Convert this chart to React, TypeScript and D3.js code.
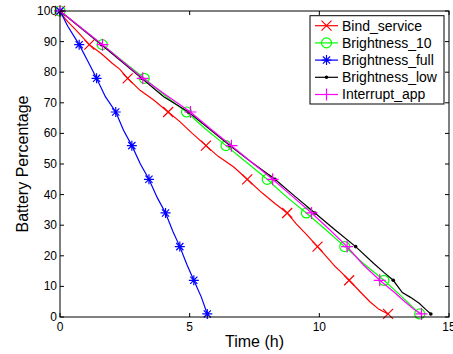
import React from 'react';
import * as d3 from 'd3';

// battery drain per scenario: [time (h), battery %]
const bindService: [number, number][] = [
  [0, 100], [0.15, 98], [0.3, 96.5], [0.7, 93], [1.13, 89], [1.6, 86], [2.0, 83], [2.3, 81],
  [2.61, 78], [3.1, 74], [3.6, 71], [4.17, 67], [4.6, 64], [5.1, 60], [5.63, 56], [6.1, 52.5],
  [6.7, 49], [7.22, 45], [7.8, 40.5], [8.3, 37], [8.76, 34], [9.1, 30.5], [9.5, 27], [9.93, 23],
  [10.3, 19.5], [10.62, 16.4], [10.8, 15], [11.15, 12], [11.6, 8], [11.95, 5], [12.3, 2.5], [12.65, 1],
];
const brightness10: [number, number][] = [
  [0, 100], [1.63, 89], [3.25, 78], [4.1, 72], [4.88, 67], [5.6, 61.5], [6.4, 56], [7.2, 50.5],
  [7.99, 45], [8.7, 39.5], [9.5, 34], [10.25, 28.5], [10.98, 23], [11.7, 17.5], [12.49, 12],
  [13.2, 6.5], [13.87, 1],
];
const brightnessFull: [number, number][] = [
  [0, 100], [0.3, 95], [0.74, 89], [1.05, 84], [1.41, 78], [1.75, 72], [2.15, 67], [2.45, 61],
  [2.77, 56], [3.1, 50], [3.43, 45], [3.75, 39], [4.07, 34], [4.35, 28], [4.62, 23], [4.9, 17],
  [5.16, 12], [5.45, 6.5], [5.68, 1],
];
const brightnessLow: [number, number][] = [
  [0, 100], [1.6, 89], [3.15, 78], [4.0, 72], [4.95, 67], [5.75, 61.5], [6.55, 56], [7.4, 50.5],
  [8.29, 45], [9.05, 39.5], [9.83, 34], [10.6, 28.5], [11.4, 23], [12.1, 17.5], [12.5, 14.5],
  [12.85, 12], [13.2, 8], [13.5, 6.5], [13.85, 4.5], [14.1, 2.5], [14.3, 1],
];
const interruptApp: [number, number][] = [
  [0, 100], [1.64, 89], [3.19, 78], [4.1, 72.5], [5.03, 67], [5.8, 61.5], [6.61, 56], [7.4, 50.5],
  [8.2, 45], [8.95, 39.5], [9.7, 34], [10.4, 28.5], [11.07, 23], [11.7, 17], [12.33, 12],
  [12.9, 8], [13.3, 5], [13.65, 2.5], [13.94, 1],
];

const markerLevels = [100, 89, 78, 67, 56, 45, 34, 23, 12, 1];
const xTicks = [0, 5, 10, 15];
const yTicks = [0, 10, 20, 30, 40, 50, 60, 70, 80, 90, 100];

const series = [
  { name: 'Bind_service', data: bindService, color: '#ff0000', marker: 'x' },
  { name: 'Brightness_10', data: brightness10, color: '#00ff00', marker: 'o' },
  { name: 'Brightness_full', data: brightnessFull, color: '#0000ff', marker: '*' },
  { name: 'Brightness_low', data: brightnessLow, color: '#000000', marker: '.' },
  { name: 'Interrupt_app', data: interruptApp, color: '#ff00ff', marker: '+' },
];

const Marker = ({ type, x, y, color }: { type: string; x: number; y: number; color: string }) => {
  const s = 5;
  if (type === 'x')
    return <path d={`M${x - s},${y - s}L${x + s},${y + s}M${x - s},${y + s}L${x + s},${y - s}`} stroke={color} strokeWidth={1.2} />;
  if (type === 'o') return <circle cx={x} cy={y} r={s} fill="none" stroke={color} strokeWidth={1.2} />;
  if (type === '+')
    return <path d={`M${x - 6},${y}L${x + 6},${y}M${x},${y - 6}L${x},${y + 6}`} stroke={color} strokeWidth={1.2} />;
  if (type === '*') {
    const d = s * 0.72;
    return (
      <path
        d={`M${x - s},${y}L${x + s},${y}M${x},${y - s}L${x},${y + s}M${x - d},${y - d}L${x + d},${y + d}M${x - d},${y + d}L${x + d},${y - d}`}
        stroke={color}
        strokeWidth={1.2}
      />
    );
  }
  return <circle cx={x} cy={y} r={1.8} fill={color} />;
};

const App = () => {
  const width = 453;
  const height = 354;
  const margin = { top: 11, right: 4, bottom: 37, left: 60 };
  const innerW = width - margin.left - margin.right;
  const innerH = height - margin.top - margin.bottom;

  const x = d3.scaleLinear().domain([0, 15]).range([0, innerW]);
  const y = d3.scaleLinear().domain([0, 100]).range([innerH, 0]);
  const line = d3
    .line<[number, number]>()
    .x((d) => x(d[0]))
    .y((d) => y(d[1]));

  const font = 'Liberation Sans, Arial, Helvetica, sans-serif';
  const tick = 4;

  const legend = { x: 250, y: 4.7, w: 134, h: 88.3, row: 17.2 };

  return (
    <div style={{ position: 'absolute', left: 0, top: 0 }}>
      <svg width={width} height={height} style={{ display: 'block', background: '#fff' }} fontFamily={font}>
        <g transform={`translate(${margin.left},${margin.top})`}>
          {series.map((s) => (
            <g key={s.name}>
              <path d={line(s.data) ?? ''} fill="none" stroke={s.color} strokeWidth={1.2} />
              {s.data
                .filter((d) => markerLevels.includes(d[1]))
                .map((d, i) => (
                  <Marker key={i} type={s.marker} x={x(d[0])} y={y(d[1])} color={s.color} />
                ))}
            </g>
          ))}

          {/* box */}
          <rect x={0} y={0} width={innerW} height={innerH} fill="none" stroke="#000" strokeWidth={1} />

          {/* x ticks */}
          {xTicks.map((t) => (
            <g key={t}>
              <line x1={x(t)} x2={x(t)} y1={innerH} y2={innerH - tick} stroke="#000" />
              <line x1={x(t)} x2={x(t)} y1={0} y2={tick} stroke="#000" />
              <text x={x(t)} y={innerH + 14} textAnchor="middle" fontSize={12} fill="#000">
                {t}
              </text>
            </g>
          ))}

          {/* y ticks */}
          {yTicks.map((t) => (
            <g key={t}>
              <line x1={0} x2={tick} y1={y(t)} y2={y(t)} stroke="#000" />
              <line x1={innerW} x2={innerW - tick} y1={y(t)} y2={y(t)} stroke="#000" />
              <text x={-3} y={y(t) + 4} textAnchor="end" fontSize={12} fill="#000">
                {t}
              </text>
            </g>
          ))}

          <text x={x(7.5)} y={innerH + 30} textAnchor="middle" fontSize={16} fill="#000">
            Time (h)
          </text>
          <text
            transform={`translate(${-32},${innerH / 2}) rotate(-90)`}
            textAnchor="middle"
            fontSize={16}
            fill="#000"
          >
            Battery Percentage
          </text>

          {/* legend */}
          <g transform={`translate(${legend.x},${legend.y})`}>
            <rect x={0} y={0} width={legend.w} height={legend.h} fill="#fff" stroke="#000" strokeWidth={1} />
            {series.map((s, i) => {
              const cy = 10 + i * legend.row;
              return (
                <g key={s.name}>
                  <line x1={5} x2={28} y1={cy} y2={cy} stroke={s.color} strokeWidth={1.2} />
                  <Marker type={s.marker} x={16.5} y={cy} color={s.color} />
                  <text x={32} y={cy + 5} fontSize={14} fill="#000">
                    {s.name}
                  </text>
                </g>
              );
            })}
          </g>
        </g>
      </svg>
    </div>
  );
};

export default App;
